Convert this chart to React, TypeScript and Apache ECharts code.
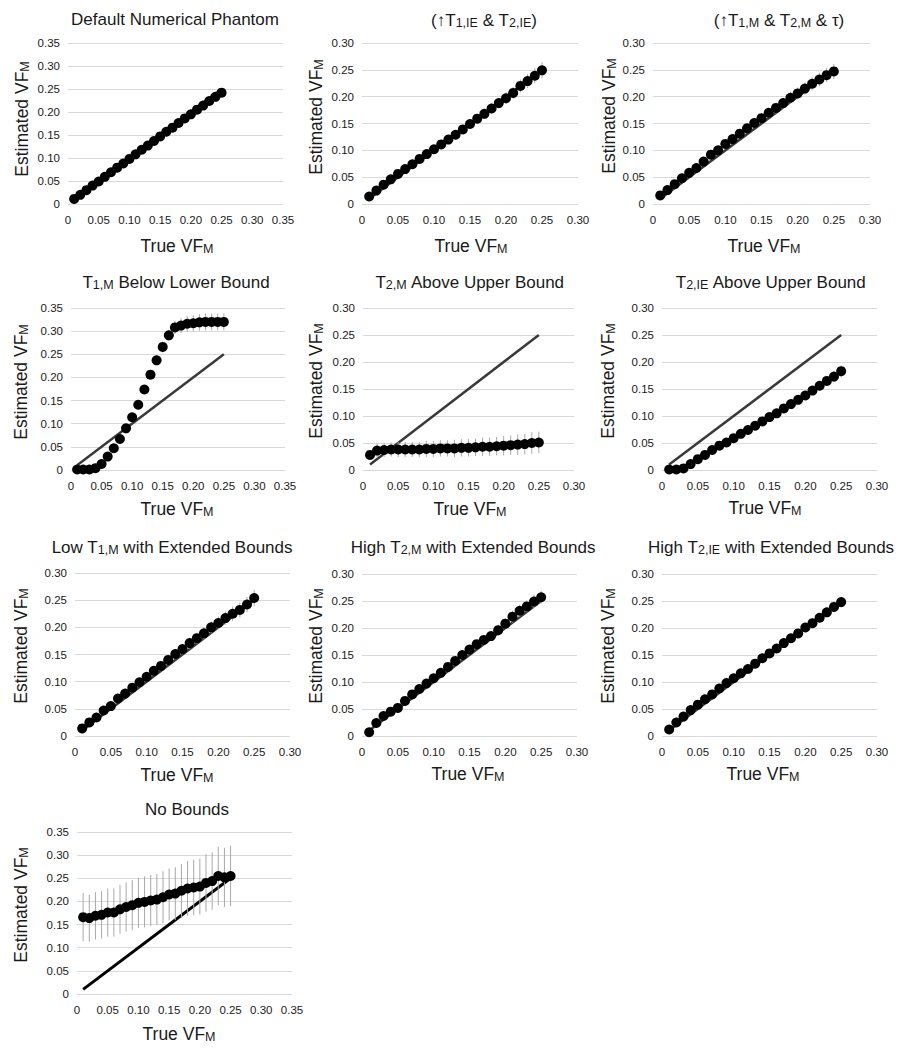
import React, { useEffect, useRef } from "react";
import * as echarts from "echarts";

// ---------- data ----------
const trueVF = [0.01, 0.02, 0.03, 0.04, 0.05, 0.06, 0.07, 0.08, 0.09, 0.1, 0.11, 0.12, 0.13, 0.14, 0.15, 0.16, 0.17, 0.18, 0.19, 0.2, 0.21, 0.22, 0.23, 0.24, 0.25];
const identityLine = [[0.01, 0.01], [0.25, 0.25]];

const defaultEst = [0.011, 0.02, 0.03, 0.04, 0.049, 0.059, 0.069, 0.079, 0.088, 0.098, 0.108, 0.118, 0.127, 0.137, 0.147, 0.157, 0.166, 0.176, 0.186, 0.195, 0.205, 0.214, 0.224, 0.233, 0.242];
const defaultErr = [0.002, 0.002, 0.002, 0.003, 0.003, 0.003, 0.003, 0.004, 0.004, 0.004, 0.004, 0.005, 0.005, 0.005, 0.005, 0.006, 0.006, 0.006, 0.006, 0.007, 0.007, 0.007, 0.008, 0.008, 0.009];

const upT1ieEst = [0.014, 0.025, 0.036, 0.046, 0.056, 0.065, 0.074, 0.084, 0.093, 0.102, 0.111, 0.12, 0.129, 0.139, 0.149, 0.159, 0.168, 0.178, 0.188, 0.197, 0.207, 0.22, 0.229, 0.239, 0.249];
const upT1ieErr = [0.002, 0.003, 0.003, 0.004, 0.004, 0.005, 0.005, 0.005, 0.006, 0.006, 0.007, 0.007, 0.008, 0.008, 0.008, 0.009, 0.009, 0.01, 0.01, 0.011, 0.011, 0.012, 0.013, 0.014, 0.015];

const upT1mEst = [0.016, 0.026, 0.037, 0.048, 0.058, 0.067, 0.079, 0.092, 0.1, 0.112, 0.121, 0.131, 0.141, 0.151, 0.16, 0.17, 0.179, 0.188, 0.198, 0.206, 0.215, 0.224, 0.232, 0.24, 0.247];
const upT1mErr = [0.003, 0.003, 0.004, 0.004, 0.005, 0.005, 0.005, 0.006, 0.006, 0.007, 0.007, 0.007, 0.008, 0.008, 0.009, 0.009, 0.01, 0.01, 0.011, 0.011, 0.012, 0.012, 0.013, 0.013, 0.014];

const t1mLowEst = [0.001, 0.001, 0.001, 0.004, 0.013, 0.029, 0.047, 0.067, 0.09, 0.114, 0.141, 0.174, 0.206, 0.237, 0.266, 0.291, 0.308, 0.312, 0.316, 0.317, 0.319, 0.32, 0.32, 0.32, 0.32];
const t1mLowErr = [0.001, 0.001, 0.001, 0.002, 0.003, 0.004, 0.005, 0.005, 0.006, 0.006, 0.007, 0.008, 0.009, 0.01, 0.012, 0.012, 0.014, 0.016, 0.017, 0.017, 0.018, 0.018, 0.018, 0.018, 0.018];

const t2mHighEst = [0.028, 0.036, 0.037, 0.038, 0.038, 0.038, 0.038, 0.038, 0.039, 0.039, 0.04, 0.04, 0.04, 0.041, 0.041, 0.042, 0.043, 0.043, 0.044, 0.045, 0.046, 0.047, 0.048, 0.05, 0.051];
const t2mHighErr = [0.006, 0.013, 0.013, 0.013, 0.014, 0.014, 0.014, 0.014, 0.015, 0.015, 0.015, 0.015, 0.016, 0.016, 0.016, 0.016, 0.017, 0.017, 0.017, 0.018, 0.018, 0.019, 0.019, 0.02, 0.02];

const t2ieHighEst = [0.001, 0.001, 0.003, 0.011, 0.02, 0.028, 0.037, 0.045, 0.051, 0.059, 0.067, 0.074, 0.082, 0.09, 0.098, 0.105, 0.114, 0.122, 0.13, 0.138, 0.147, 0.156, 0.165, 0.173, 0.183];
const t2ieHighErr = [0.001, 0.001, 0.002, 0.003, 0.003, 0.004, 0.004, 0.004, 0.005, 0.005, 0.005, 0.005, 0.006, 0.006, 0.006, 0.007, 0.007, 0.007, 0.008, 0.008, 0.008, 0.009, 0.009, 0.01, 0.011];

const lowT1mExtEst = [0.014, 0.025, 0.034, 0.047, 0.055, 0.069, 0.078, 0.089, 0.099, 0.109, 0.12, 0.129, 0.14, 0.151, 0.16, 0.171, 0.18, 0.189, 0.2, 0.208, 0.217, 0.225, 0.232, 0.242, 0.254];
const lowT1mExtErr = [0.002, 0.003, 0.003, 0.004, 0.004, 0.005, 0.005, 0.006, 0.006, 0.007, 0.007, 0.008, 0.008, 0.009, 0.009, 0.01, 0.01, 0.011, 0.011, 0.012, 0.012, 0.013, 0.014, 0.014, 0.015];

const highT2mExtEst = [0.007, 0.024, 0.037, 0.045, 0.052, 0.065, 0.077, 0.087, 0.097, 0.107, 0.117, 0.128, 0.139, 0.15, 0.16, 0.17, 0.178, 0.185, 0.196, 0.208, 0.221, 0.232, 0.24, 0.249, 0.257];
const highT2mExtErr = [0.002, 0.002, 0.003, 0.003, 0.004, 0.004, 0.005, 0.005, 0.005, 0.006, 0.006, 0.007, 0.007, 0.008, 0.008, 0.008, 0.009, 0.009, 0.01, 0.01, 0.011, 0.011, 0.011, 0.012, 0.012];

const highT2ieExtEst = [0.012, 0.025, 0.036, 0.048, 0.058, 0.068, 0.077, 0.088, 0.098, 0.107, 0.116, 0.124, 0.134, 0.144, 0.153, 0.162, 0.172, 0.181, 0.19, 0.201, 0.209, 0.219, 0.229, 0.239, 0.248];
const highT2ieExtErr = [0.002, 0.002, 0.003, 0.003, 0.003, 0.004, 0.004, 0.004, 0.005, 0.005, 0.005, 0.006, 0.006, 0.006, 0.007, 0.007, 0.007, 0.008, 0.008, 0.008, 0.009, 0.009, 0.009, 0.01, 0.01];

const noBoundsEst = [0.166, 0.164, 0.169, 0.171, 0.176, 0.176, 0.183, 0.188, 0.192, 0.197, 0.199, 0.202, 0.204, 0.209, 0.215, 0.217, 0.223, 0.228, 0.23, 0.232, 0.24, 0.244, 0.255, 0.252, 0.255];
const noBoundsErr = [0.052, 0.051, 0.051, 0.051, 0.052, 0.052, 0.053, 0.053, 0.054, 0.054, 0.055, 0.055, 0.055, 0.056, 0.056, 0.057, 0.058, 0.059, 0.06, 0.06, 0.062, 0.062, 0.063, 0.064, 0.065];

// title pieces: [text, isSubscript]
const titles: [string, boolean][][] = [
  [["Default Numerical Phantom", false]],
  [["(↑T", false], ["1,IE", true], [" & T", false], ["2,IE", true], [")", false]],
  [["(↑T", false], ["1,M", true], [" & T", false], ["2,M", true], [" & τ)", false]],
  [["T", false], ["1,M", true], [" Below Lower Bound", false]],
  [["T", false], ["2,M", true], [" Above Upper Bound", false]],
  [["T", false], ["2,IE", true], [" Above Upper Bound", false]],
  [["Low T", false], ["1,M", true], [" with Extended Bounds", false]],
  [["High T", false], ["2,M", true], [" with Extended Bounds", false]],
  [["High T", false], ["2,IE", true], [" with Extended Bounds", false]],
  [["No Bounds", false]],
];
const estimates = [defaultEst, upT1ieEst, upT1mEst, t1mLowEst, t2mHighEst, t2ieHighEst, lowT1mExtEst, highT2mExtEst, highT2ieExtEst, noBoundsEst];
const errors = [defaultErr, upT1ieErr, upT1mErr, t1mLowErr, t2mHighErr, t2ieHighErr, lowT1mExtErr, highT2mExtErr, highT2ieExtErr, noBoundsErr];
const xMaxes = [0.35, 0.3, 0.3, 0.35, 0.3, 0.3, 0.3, 0.3, 0.3, 0.35];
const yMaxes = [0.35, 0.3, 0.3, 0.35, 0.3, 0.3, 0.3, 0.3, 0.3, 0.35];
const xAxisName: [string, boolean][] = [["True VF", false], ["M", true]];
const yAxisName: [string, boolean][] = [["Estimated VF", false], ["M", true]];

// ---------- layout (pixels) ----------
// grid: [left, top, right, bottom]; title: [cx, cy]; yName: [cx, cy]; xName: [cx, cy]
const layout = [
  { grid: [68, 43, 283, 204], title: [175, 18], yName: [21, 119], xName: [177, 245] },
  { grid: [362, 43, 578, 204], title: [484, 19], yName: [315, 117], xName: [471, 245] },
  { grid: [653, 43, 870, 204], title: [779, 19], yName: [608, 116], xName: [764, 245] },
  { grid: [71, 308, 285, 470], title: [176, 281], yName: [20, 382], xName: [177, 508] },
  { grid: [363, 308, 574, 470], title: [470, 281], yName: [315, 381], xName: [470, 508] },
  { grid: [662, 308, 877, 470], title: [771, 281], yName: [607, 381], xName: [765, 507] },
  { grid: [75, 573, 290, 736], title: [172, 546], yName: [20, 646], xName: [177, 774] },
  { grid: [362, 574, 577, 736], title: [473, 546], yName: [315, 646], xName: [468, 773] },
  { grid: [662, 574, 877, 736], title: [771, 546], yName: [607, 646], xName: [763, 773] },
  { grid: [77, 832, 292, 994], title: [187, 808], yName: [20, 905], xName: [179, 1033] },
];

const FONT = "'Liberation Sans', Arial, Helvetica, sans-serif";
const TEXT = "#1a1a1a";

function richString(parts: [string, boolean][]) {
  return parts.map(([t, sub]) => `{${sub ? "s" : "n"}|${t}}`).join("");
}

function richStyles(main: number, sub: number) {
  return {
    n: { fontSize: main, fontFamily: FONT, fill: TEXT, lineHeight: 20, verticalAlign: "bottom" },
    s: { fontSize: sub, fontFamily: FONT, fill: TEXT, lineHeight: 15, verticalAlign: "bottom" },
  };
}

function buildOption() {
  const grids: any[] = [];
  const xAxes: any[] = [];
  const yAxes: any[] = [];
  const series: any[] = [];
  const graphics: any[] = [];
  const fmt = (v: number) => (v === 0 ? "0" : v.toFixed(2));

  layout.forEach((L, i) => {
    const [l, t, r, b] = L.grid;
    grids.push({ left: l, top: t, width: r - l, height: b - t, outerBoundsMode: "none", containLabel: false });
    xAxes.push({
      type: "value", gridIndex: i, min: 0, max: xMaxes[i], interval: 0.05,
      axisLine: { show: false }, axisTick: { show: false }, splitLine: { show: false },
      axisLabel: { formatter: fmt, fontFamily: FONT, fontSize: 11.5, color: TEXT, margin: 10, showMinLabel: true, showMaxLabel: true, hideOverlap: false },
    });
    yAxes.push({
      type: "value", gridIndex: i, min: 0, max: yMaxes[i], interval: 0.05,
      axisLine: { show: false }, axisTick: { show: false },
      splitLine: { show: true, lineStyle: { color: "#d9d9d9", width: 1 } },
      axisLabel: { formatter: fmt, fontFamily: FONT, fontSize: 11.5, color: TEXT, margin: 8, showMinLabel: true, showMaxLabel: true },
    });
    const est = estimates[i];
    const err = errors[i];
    const pts = trueVF.map((x, k) => [x, est[k]]);
    const bars = trueVF.map((x, k) => [x, est[k], err[k]]);
    const isLast = i === 9;
    series.push({
      type: "line", xAxisIndex: i, yAxisIndex: i, data: identityLine, showSymbol: false, symbol: "none",
      lineStyle: { color: isLast ? "#000000" : "#3a3a3a", width: isLast ? 3 : 2.5 }, z: 2, silent: true,
    });
    series.push({
      type: "custom", xAxisIndex: i, yAxisIndex: i, data: bars, z: 3, silent: true,
      encode: { x: 0, y: 1 },
      renderItem: (_p: any, api: any) => {
        const x = api.value(0), y = api.value(1), e = api.value(2);
        const a = api.coord([x, y + e]);
        const c = api.coord([x, y - e]);
        return { type: "line", shape: { x1: a[0], y1: a[1], x2: c[0], y2: c[1] }, style: { stroke: "#a8a8a8", lineWidth: 1 } };
      },
    });
    series.push({
      type: "scatter", xAxisIndex: i, yAxisIndex: i, data: pts, symbol: "circle", symbolSize: 10,
      itemStyle: { color: "#000000", opacity: 1 }, z: 4, silent: true,
    });

    graphics.push({
      type: "text", x: L.title[0], y: L.title[1],
      style: { text: richString(titles[i]), rich: richStyles(17, 12.5), align: "center", verticalAlign: "middle" },
    });
    graphics.push({
      type: "text", x: L.xName[0], y: L.xName[1],
      style: { text: richString(xAxisName), rich: richStyles(17.5, 12.5), align: "center", verticalAlign: "middle" },
    });
    graphics.push({
      type: "text", x: L.yName[0], y: L.yName[1], rotation: Math.PI / 2,
      style: { text: richString(yAxisName), rich: richStyles(17.5, 12.5), align: "center", verticalAlign: "middle" },
    });
  });

  return {
    animation: false,
    backgroundColor: "#ffffff",
    grid: grids,
    xAxis: xAxes,
    yAxis: yAxes,
    series,
    graphic: graphics,
  };
}

export default function App() {
  const ref = useRef<HTMLDivElement>(null);
  useEffect(() => {
    if (!ref.current) return;
    const chart = echarts.init(ref.current, null, { renderer: "svg" });
    chart.setOption(buildOption() as any);
    return () => chart.dispose();
  }, []);
  return (
    <div
      ref={ref}
      style={{ position: "absolute", left: 0, top: 0, width: 908, height: 1050, background: "#fff" }}
    />
  );
}
